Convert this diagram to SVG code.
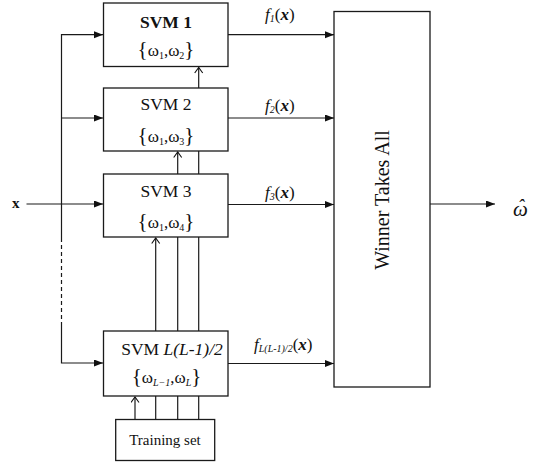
<svg xmlns="http://www.w3.org/2000/svg" width="533" height="465" viewBox="0 0 533 465">
  <style>
    .box { fill: #fff; stroke: #1a1a1a; stroke-width: 1.3; }
    .ln { fill: none; stroke: #1a1a1a; stroke-width: 1.2; }
    .dash { fill: none; stroke: #1a1a1a; stroke-width: 1.2; stroke-dasharray: 4 3; }
    text { font-family: "Liberation Serif", "Times New Roman", serif; fill: #111; }
    .ttl { font-size: 17.5px; }
    .set { font-size: 17px; }
    .br { font-size: 21px; }
    .sub { font-size: 10px; }
    .fl { font-size: 17px; font-style: italic; }
  </style>
  <defs>
    <marker id="solid" markerUnits="userSpaceOnUse" markerWidth="10" markerHeight="8" refX="9" refY="3.5" orient="auto">
      <path d="M0,0 L9,3.5 L0,7 z" fill="#111"/>
    </marker>
    <marker id="open" markerUnits="userSpaceOnUse" markerWidth="8" markerHeight="10" refX="6" refY="4.5" orient="auto">
      <path d="M0.5,0.5 L6,4.5 L0.5,8.5" fill="none" stroke="#111" stroke-width="1.1"/>
    </marker>
  </defs>

  <!-- connectors -->
  <g id="connectors">
    <!-- input x and distribution bus -->
    <path class="ln" d="M26.5,204 H103" marker-end="url(#solid)"/>
    <path class="ln" d="M61.5,238 V34.7 H103" marker-end="url(#solid)"/>
    <path class="ln" d="M61.5,118 H103" marker-end="url(#solid)"/>
    <path class="dash" d="M61.5,238 V323"/>
    <path class="ln" d="M61.5,323 V363 H103" marker-end="url(#solid)"/>
    <!-- training data feeds upward -->
    <path class="ln" d="M135,419.5 V397" marker-end="url(#open)"/>
    <path class="ln" d="M155.7,419.5 V396"/>
    <path class="ln" d="M177.7,419.5 V396"/>
    <path class="ln" d="M198.7,419.5 V396"/>
    <path class="ln" d="M155.7,331 V238" marker-end="url(#open)"/>
    <path class="ln" d="M177.7,331 V237"/>
    <path class="ln" d="M198.7,331 V237"/>
    <path class="ln" d="M177.7,174 V152" marker-end="url(#open)"/>
    <path class="ln" d="M198.7,174 V151"/>
    <path class="ln" d="M198.7,88 V67.5" marker-end="url(#open)"/>
    <!-- classifier outputs -->
    <path class="ln" d="M228,34.7 H334" marker-end="url(#solid)"/>
    <path class="ln" d="M228,118 H334" marker-end="url(#solid)"/>
    <path class="ln" d="M228,204.5 H334" marker-end="url(#solid)"/>
    <path class="ln" d="M228,363.5 H334" marker-end="url(#solid)"/>
    <path class="ln" d="M430,204 H495" marker-end="url(#solid)"/>
  </g>

  <!-- output labels -->
  <g id="output-labels" class="fl">
    <text x="265" y="20">f<tspan class="sub" dy="2">1</tspan><tspan dy="-2" font-style="normal">(</tspan><tspan font-weight="bold">x</tspan><tspan font-style="normal">)</tspan></text>
    <text x="265" y="111">f<tspan class="sub" dy="2">2</tspan><tspan dy="-2" font-style="normal">(</tspan><tspan font-weight="bold">x</tspan><tspan font-style="normal">)</tspan></text>
    <text x="265" y="198">f<tspan class="sub" dy="2">3</tspan><tspan dy="-2" font-style="normal">(</tspan><tspan font-weight="bold">x</tspan><tspan font-style="normal">)</tspan></text>
    <text x="254" y="350">f<tspan class="sub" font-size="9" dy="2">L(L-1)/2</tspan><tspan dy="-2" font-style="normal">(</tspan><tspan font-weight="bold">x</tspan><tspan font-style="normal">)</tspan></text>
  </g>

  <text id="input-x" x="12" y="208" font-size="15" font-weight="bold">x</text>

  <g id="svm1">
    <rect class="box" x="103.5" y="3" width="124.5" height="63.5"/>
    <text class="ttl" x="166" y="28" text-anchor="middle" font-weight="bold">SVM 1</text>
    <text class="set" x="166" y="56" text-anchor="middle"><tspan class="br">{</tspan>ω<tspan class="sub" dy="3">1</tspan><tspan dy="-3">,ω</tspan><tspan class="sub" dy="3">2</tspan><tspan class="br" dy="-3">}</tspan></text>
  </g>

  <g id="svm2">
    <rect class="box" x="103.5" y="88" width="124.5" height="63"/>
    <text class="ttl" x="166" y="110" text-anchor="middle">SVM 2</text>
    <text class="set" x="166" y="141.5" text-anchor="middle"><tspan class="br">{</tspan>ω<tspan class="sub" dy="3">1</tspan><tspan dy="-3">,ω</tspan><tspan class="sub" dy="3">3</tspan><tspan class="br" dy="-3">}</tspan></text>
  </g>

  <g id="svm3">
    <rect class="box" x="103.5" y="174" width="124.5" height="63"/>
    <text class="ttl" x="166" y="197" text-anchor="middle">SVM 3</text>
    <text class="set" x="166" y="228" text-anchor="middle"><tspan class="br">{</tspan>ω<tspan class="sub" dy="3">1</tspan><tspan dy="-3">,ω</tspan><tspan class="sub" dy="3">4</tspan><tspan class="br" dy="-3">}</tspan></text>
  </g>

  <g id="svm-last">
    <rect class="box" x="103.5" y="331" width="124.5" height="65"/>
    <text class="ttl" x="172" y="355" text-anchor="middle">SVM <tspan font-style="italic">L(L-1)/2</tspan></text>
    <text class="set" x="166.5" y="382.5" text-anchor="middle"><tspan class="br">{</tspan>ω<tspan class="sub" font-style="italic" dy="3">L−1</tspan><tspan dy="-3">,ω</tspan><tspan class="sub" font-style="italic" dy="3">L</tspan><tspan class="br" dy="-3">}</tspan></text>
  </g>

  <g id="training-set">
    <rect class="box" x="115.7" y="419.5" width="99" height="41"/>
    <text x="165" y="445" font-size="15" text-anchor="middle">Training set</text>
  </g>

  <g id="winner-takes-all">
    <rect class="box" x="334" y="11.5" width="96" height="375.5"/>
    <text x="0" y="0" font-size="20" text-anchor="middle" transform="translate(389,200) rotate(-90)">Winner Takes All</text>
  </g>

  <!-- estimated class: omega with a circumflex accent, one text run -->
  <text id="omega-hat" x="513" y="216" font-size="21" font-style="italic">ω<tspan dx="-10" dy="-4" font-size="19">ˆ</tspan></text>
</svg>
